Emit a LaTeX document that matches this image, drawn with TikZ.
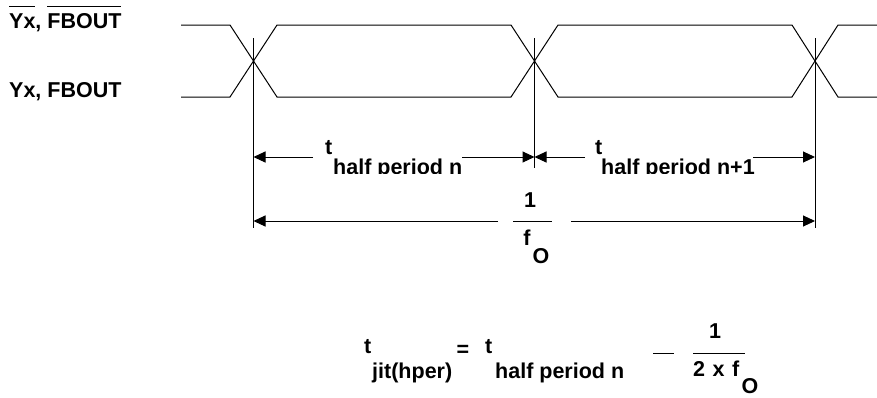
\documentclass[tikz,border=0pt]{standalone}
\usepackage{fontspec}
\setmainfont{Liberation Sans}
\usetikzlibrary{arrows.meta}
\newlength\ovlw
\newcommand\myovl[1]{\settowidth\ovlw{#1}\rlap{\rule[21pt]{\ovlw}{1pt}}#1}
\begin{document}
\begin{tikzpicture}[x=1pt,y=-1pt,
  every node/.style={inner sep=0pt, font=\fontsize{21.5}{25}\selectfont\bfseries},
  wave/.style={line width=1pt, line join=miter},
  dimline/.style={line width=1pt, -{Triangle[length=12pt,width=11pt]}},
  bar/.style={line width=1pt}]
\useasboundingbox (0,0) rectangle (877,397);
% signal labels
\node[anchor=base west] (ylabbar) at (9,28) {\myovl{Yx}, \myovl{FBOUT}};
\node[anchor=base west] (ylab) at (9,97) {Yx, FBOUT};
% waveforms
\draw[wave] (181,25) -- (230,25) -- (277,97) -- (511,97) -- (558,25) -- (792,25) -- (838,97) -- (877,97);
\draw[wave] (181,97) -- (230,97) -- (277,25) -- (511,25) -- (558,97) -- (792,97) -- (838,25) -- (877,25);
% vertical reference lines
\coordinate (v1t) at (253.5,38);  \coordinate (v1b) at (253.5,228);
\coordinate (v2t) at (534.5,38);  \coordinate (v2b) at (534.5,168);
\coordinate (v3t) at (815,38);    \coordinate (v3b) at (815,228);
\draw[wave] (v1t) -- (v1b);
\draw[wave] (v2t) -- (v2b);
\draw[wave] (v3t) -- (v3b);
% half period labels
\node[anchor=base west] (t1) at (325,154) {t};
\node[anchor=base west] (t2) at (595,154) {t};
\begin{scope}
\clip (300,140) rectangle (780,173);
\node[anchor=base west] (hp1) at (333,174.5) {half period n};
\node[anchor=base west] (hp2) at (601,174.5) {half period n+1};
\end{scope}
% half period arrows
\coordinate (a1l) at (253.5,157); \coordinate (a1m) at (534.5,157); \coordinate (a1r) at (815,157);
\coordinate (s1a) at (313,157); \coordinate (s1b) at (462,157);
\coordinate (s2a) at (585,157); \coordinate (s2b) at (753,157);
\draw[dimline] (s1a) -- (a1l);
\draw[dimline] (s1b) -- (a1m);
\draw[dimline] (s2a) -- (a1m);
\draw[dimline] (s2b) -- (a1r);
% period arrow 1/fO
\node[anchor=base] (one1) at (530,207) {1};
\node[anchor=base] (f1) at (527,245) {f};
\node[anchor=base] (o1) at (541,263) {O};
\draw[bar] (513,221) -- (552,221);
\coordinate (p1a) at (498,221); \coordinate (p1b) at (571,221);
\coordinate (p1l) at (253.5,221); \coordinate (p1r) at (815,221);
\draw[dimline] (p1a) -- (p1l);
\draw[dimline] (p1b) -- (p1r);
% formula
\node[anchor=base west] (ft1) at (364,353) {t};
\node[anchor=base west] (fjit) at (372,378) {jit(hper)};
\node[anchor=base] (feq) at (463,356) {=};
\node[anchor=base west] (ft2) at (485,353) {t};
\node[anchor=base west] (fhp) at (495,378) {half period n};
\draw[bar] (653,353) -- (674,353);
\draw[bar] (693,353) -- (745,353);
\node[anchor=base] (fone) at (715,338) {1};
\node[anchor=base west] (f2xf) at (693,376) {2\hspace{7.5pt}x\hspace{7.5pt}f};
\node[anchor=base] (fo) at (750,393) {O};
\end{tikzpicture}
\end{document}
